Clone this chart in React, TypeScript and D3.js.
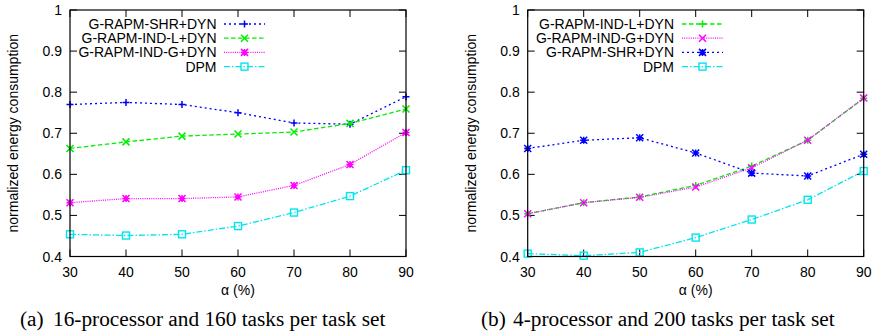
import React from "react";
import * as d3 from "d3";

const alphas = [30, 40, 50, 60, 70, 80, 90];
const yTicks = [0.4, 0.5, 0.6, 0.7, 0.8, 0.9, 1];
const yTickLabels = ["0.4", "0.5", "0.6", "0.7", "0.8", "0.9", "1"];

const leftShr = [0.770, 0.775, 0.770, 0.750, 0.725, 0.722, 0.789];
const leftIndL = [0.663, 0.679, 0.693, 0.698, 0.703, 0.724, 0.759];
const leftIndG = [0.531, 0.541, 0.541, 0.545, 0.573, 0.624, 0.702];
const leftDpm = [0.454, 0.451, 0.454, 0.474, 0.507, 0.547, 0.610];

const rightIndL = [0.504, 0.531, 0.545, 0.573, 0.620, 0.683, 0.785];
const rightIndG = [0.504, 0.531, 0.544, 0.569, 0.616, 0.683, 0.786];
const rightShr = [0.663, 0.683, 0.689, 0.652, 0.603, 0.596, 0.649];
const rightDpm = [0.407, 0.402, 0.410, 0.446, 0.490, 0.538, 0.608];

type Marker = "plus" | "cross" | "star" | "square";
type Series = { name: string; values: number[]; color: string; dash: string; marker: Marker };

const BLUE = "#0000ff";
const GREEN = "#00ee00";
const MAGENTA = "#ff00ff";
const CYAN = "#00e5ee";
const DOT = "2,3";
const DASH = "4.5,2.5";
const FINE = "1,1.2";
const DASHDOT = "6,2,1.5,2";

const leftSeries: Series[] = [
  { name: "G-RAPM-SHR+DYN", values: leftShr, color: BLUE, dash: DOT, marker: "plus" },
  { name: "G-RAPM-IND-L+DYN", values: leftIndL, color: GREEN, dash: DASH, marker: "cross" },
  { name: "G-RAPM-IND-G+DYN", values: leftIndG, color: MAGENTA, dash: FINE, marker: "star" },
  { name: "DPM", values: leftDpm, color: CYAN, dash: DASHDOT, marker: "square" },
];
const rightSeries: Series[] = [
  { name: "G-RAPM-IND-L+DYN", values: rightIndL, color: GREEN, dash: DASH, marker: "plus" },
  { name: "G-RAPM-IND-G+DYN", values: rightIndG, color: MAGENTA, dash: FINE, marker: "cross" },
  { name: "G-RAPM-SHR+DYN", values: rightShr, color: BLUE, dash: DOT, marker: "star" },
  { name: "DPM", values: rightDpm, color: CYAN, dash: DASHDOT, marker: "square" },
];

const SANS = "'Liberation Sans', Arial, Helvetica, sans-serif";
const SERIF = "'Liberation Serif', 'Times New Roman', serif";

function MarkerShape({ type, x, y, color }: { type: Marker; x: number; y: number; color: string }) {
  const r = 3.5;
  if (type === "square") {
    return <rect x={x - r} y={y - r} width={2 * r} height={2 * r} fill="none" stroke={color} strokeWidth={1.4} />;
  }
  let d = "";
  if (type === "plus" || type === "star") d += `M${x - r},${y}H${x + r}M${x},${y - r}V${y + r}`;
  if (type === "cross" || type === "star") d += `M${x - r},${y - r}L${x + r},${y + r}M${x - r},${y + r}L${x + r},${y - r}`;
  return <path d={d} fill="none" stroke={color} strokeWidth={1.5} />;
}

type PanelProps = {
  left: number; series: Series[]; legendTextX: number; legendLineX0: number; legendLineX1: number;
  labelX: number; captionLabel: string; captionText: string; captionLabelX: number; captionTextX: number;
};

function Panel({
  left, series, legendTextX, legendLineX0, legendLineX1, labelX, captionLabel, captionText, captionLabelX, captionTextX,
}: PanelProps) {
  const top = 10;
  const bottom = 256.5;
  const right = left + 336;
  const x = d3.scaleLinear().domain([30, 90]).range([left, right]);
  const y = d3.scaleLinear().domain([0.4, 1]).range([bottom, top]);
  const line = d3.line<number>().x((_, i) => x(alphas[i])).y((v) => y(v));
  const tl = 7;
  const legendRows = [24, 38.2, 52.4, 66.6];
  return (
    <g>
      {yTicks.map((t, i) => (
        <g key={"y" + i}>
          <line x1={left} x2={left + tl} y1={y(t)} y2={y(t)} stroke="#000" strokeWidth={1} />
          <line x1={right} x2={right - tl} y1={y(t)} y2={y(t)} stroke="#000" strokeWidth={1} />
          <text x={left - 8} y={y(t)} dy="0.36em" textAnchor="end" fontFamily={SANS} fontSize={14} fill="#000">
            {yTickLabels[i]}
          </text>
        </g>
      ))}
      {alphas.map((a, i) => (
        <g key={"x" + i}>
          <line x1={x(a)} x2={x(a)} y1={bottom} y2={bottom - tl} stroke="#000" strokeWidth={1} />
          <line x1={x(a)} x2={x(a)} y1={top} y2={top + tl} stroke="#000" strokeWidth={1} />
          <text x={x(a)} y={277} textAnchor="middle" fontFamily={SANS} fontSize={14} fill="#000">
            {String(a)}
          </text>
        </g>
      ))}
      {series.map((s, si) => (
        <g key={"s" + si}>
          <path d={line(s.values) || ""} fill="none" stroke={s.color} strokeWidth={1.3} strokeDasharray={s.dash} />
          {s.values.map((v, i) => (
            <MarkerShape key={i} type={s.marker} x={x(alphas[i])} y={y(v)} color={s.color} />
          ))}
        </g>
      ))}
      {series.map((s, si) => (
        <g key={"l" + si}>
          <text x={legendTextX} y={legendRows[si]} dy="0.36em" textAnchor="end" fontFamily={SANS} fontSize={14} fill="#000">
            {s.name}
          </text>
          <line x1={legendLineX0} x2={legendLineX1} y1={legendRows[si]} y2={legendRows[si]} stroke={s.color} strokeWidth={1.3} strokeDasharray={s.dash} />
          <MarkerShape type={s.marker} x={(legendLineX0 + legendLineX1) / 2} y={legendRows[si]} color={s.color} />
        </g>
      ))}
      <rect x={left} y={top} width={right - left} height={bottom - top} fill="none" stroke="#000" strokeWidth={1.2} />
      <text transform={`translate(${labelX},${(top + bottom) / 2}) rotate(-90)`} textAnchor="middle" fontFamily={SANS} fontSize={14} fill="#000">
        normalized energy consumption
      </text>
      <text x={(left + right) / 2} y={295} textAnchor="middle" fontFamily={SANS} fontSize={14} fill="#000">
        α (%)
      </text>
      <text x={captionLabelX} y={325.5} fontFamily={SERIF} fontSize={21.3} fill="#000">
        {captionLabel}
      </text>
      <text x={captionTextX} y={325.5} fontFamily={SERIF} fontSize={21.3} fill="#000">
        {captionText}
      </text>
    </g>
  );
}

export default function App() {
  return (
    <svg width={872} height={335} style={{ position: "absolute", left: 0, top: 0, background: "#fff" }}>
      <rect x={0} y={0} width={872} height={335} fill="#fff" />
      <Panel
        left={70}
        series={leftSeries}
        legendTextX={216.5}
        legendLineX0={224}
        legendLineX1={265}
        labelX={17.5}
        captionLabel="(a)"
        captionText="16-processor and 160 tasks per task set"
        captionLabelX={20}
        captionTextX={53}
      />
      <Panel
        left={527.7}
        series={rightSeries}
        legendTextX={674}
        legendLineX0={682}
        legendLineX1={723}
        labelX={475.5}
        captionLabel="(b)"
        captionText="4-processor and 200 tasks per task set"
        captionLabelX={481}
        captionTextX={513}
      />
    </svg>
  );
}
